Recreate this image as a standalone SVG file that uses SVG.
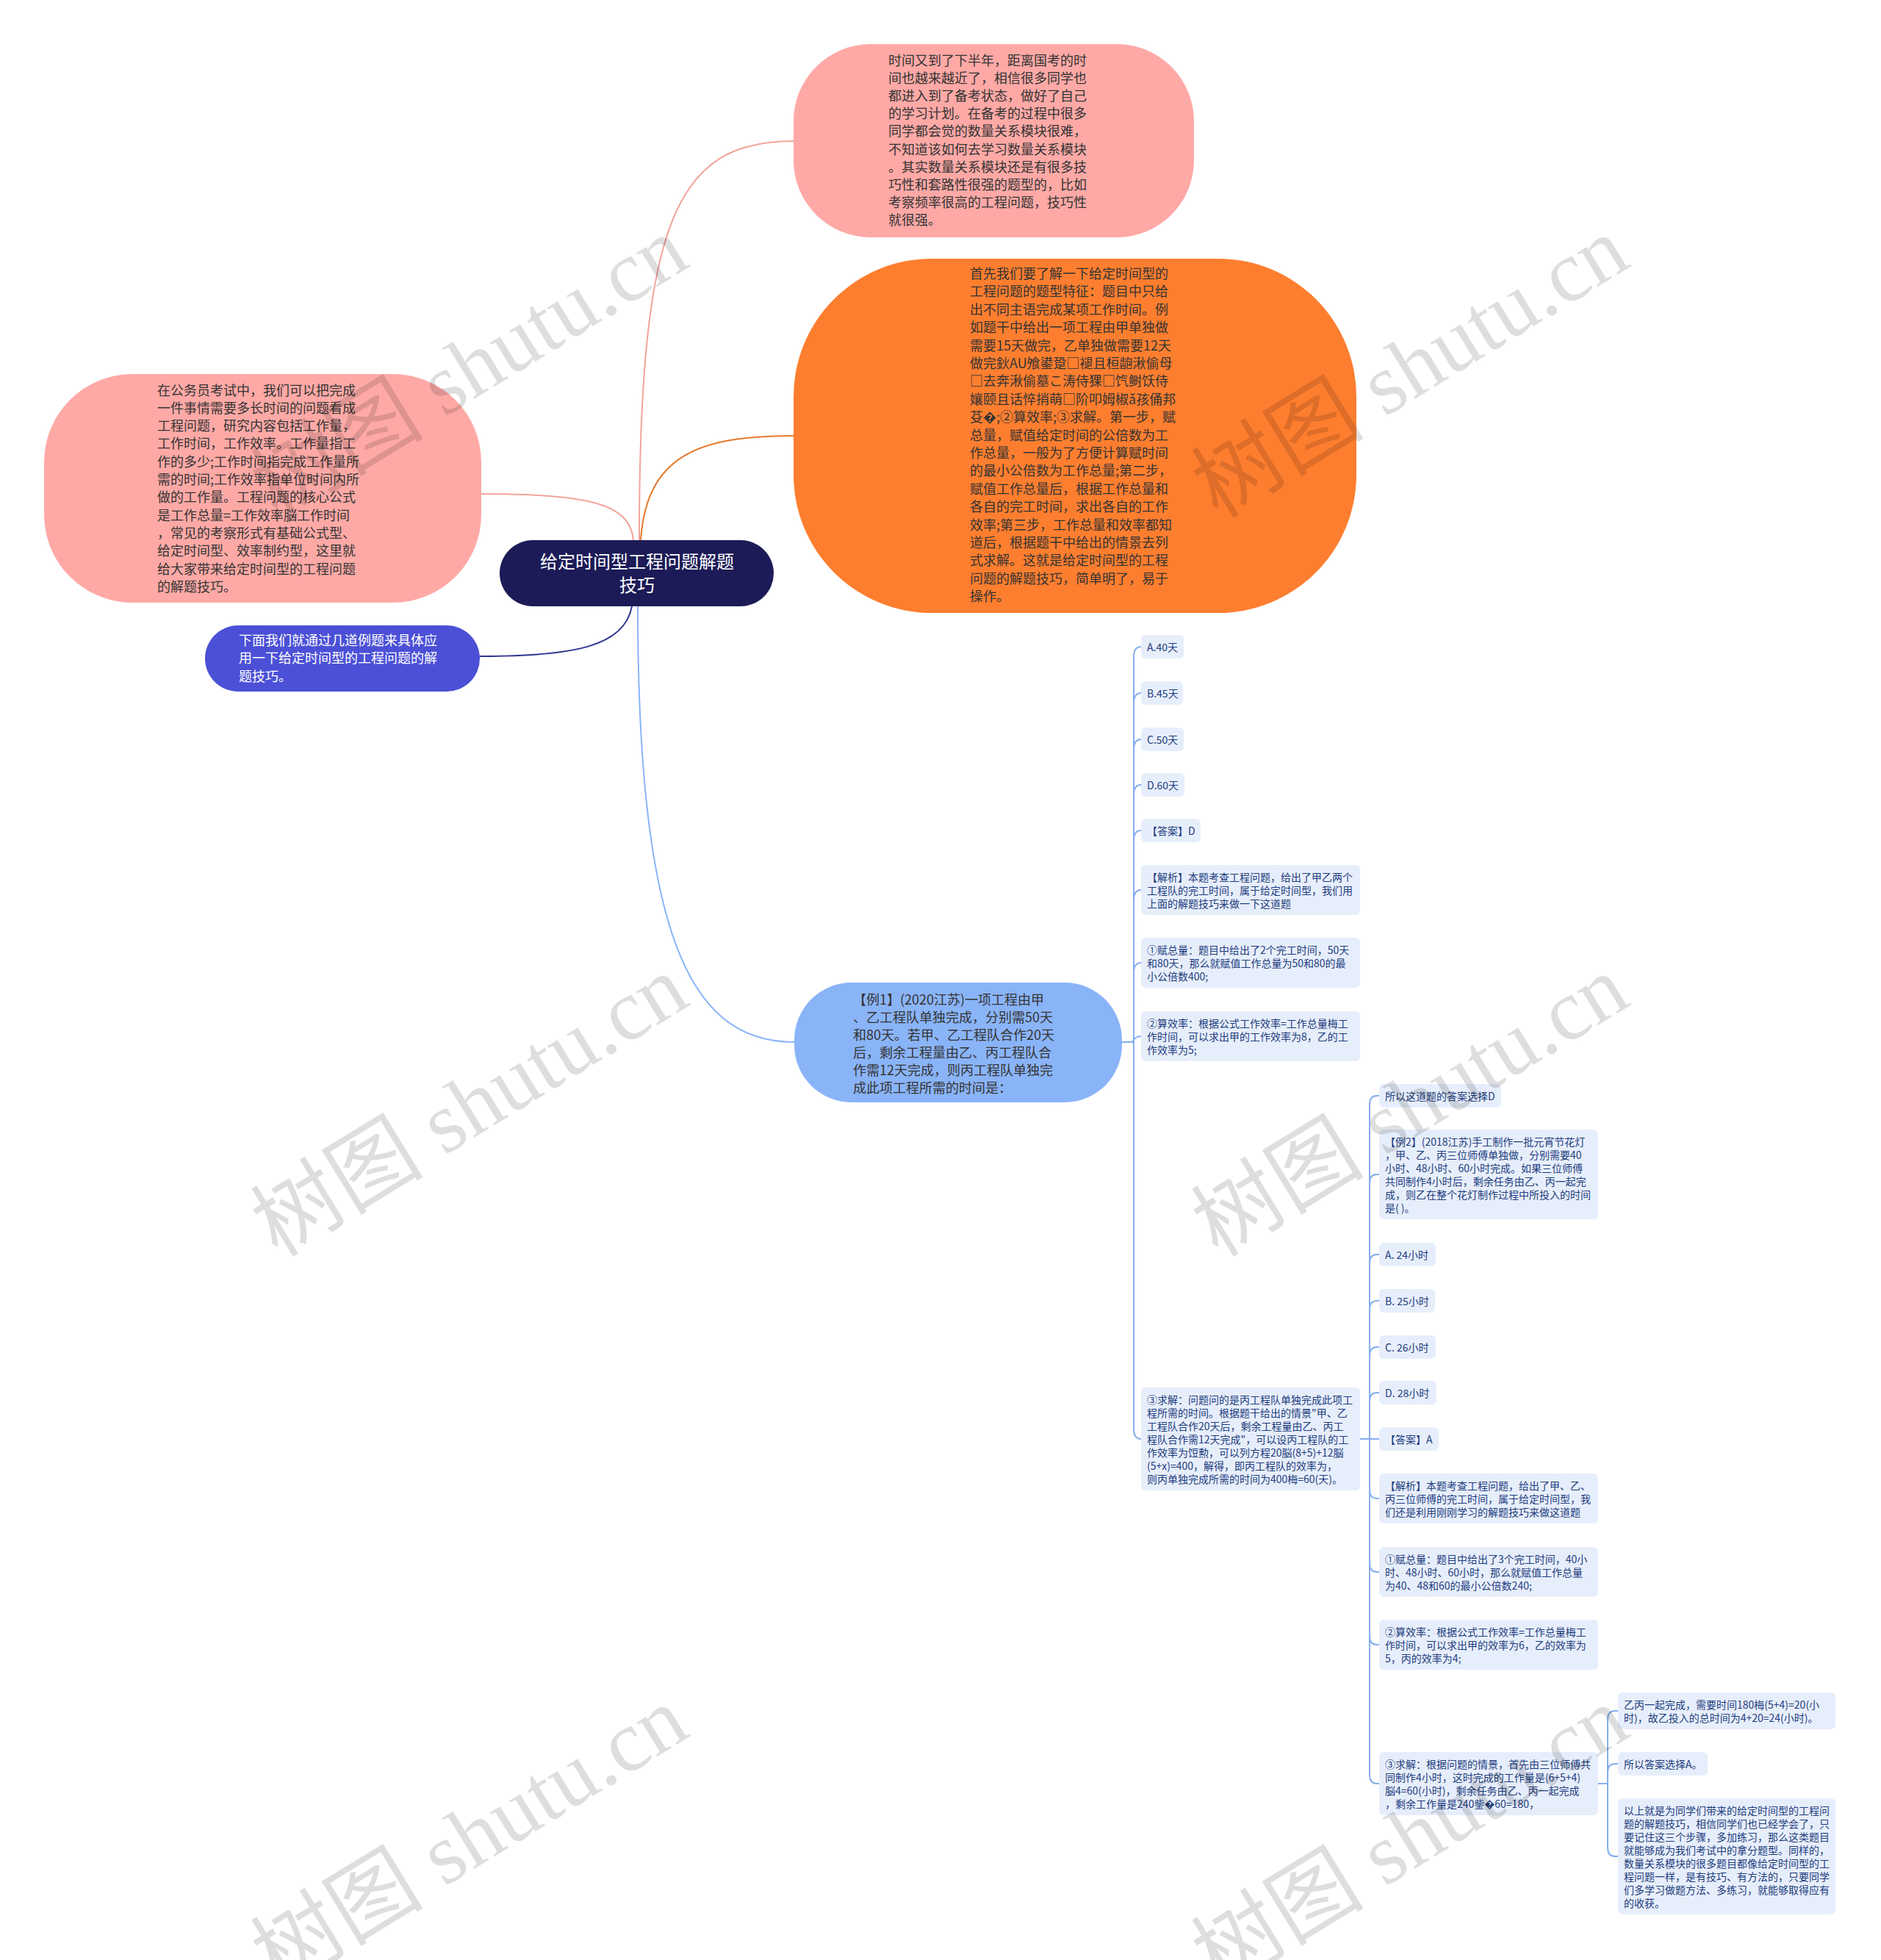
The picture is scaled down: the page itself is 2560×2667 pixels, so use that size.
<svg xmlns="http://www.w3.org/2000/svg" width="2560" height="2667" viewBox="0 0 2560 2667">
<style>
text{font-family:"Noto Sans CJK SC","Noto Sans",sans-serif}
.b18{font-size:18px;fill:#333}
.w18{font-size:18px;fill:#fff}
.s14{font-size:14px;fill:#1c3c7d}
.sm{fill:#e7eefb}
.c3{fill:none;stroke:#86aeee;stroke-width:2}
.wm{font-family:"Liberation Serif","Noto Sans CJK SC",serif;font-size:118px;fill:#000;fill-opacity:0.13}
</style>
<rect width="2560" height="2667" fill="#fff"/>
<g id="connectors" fill="none" stroke-width="2">
<path d="M870 735 C870 300 920 192 1080 192" stroke="#f2a39b"/>
<path d="M872 735 C880 620 950 593 1080 593" stroke="#e8782a"/>
<path d="M862 735 C858 685 800 672 655 672" stroke="#f2a39b"/>
<path d="M860 825 C850 880 780 893 653 893" stroke="#2e3490"/>
<path d="M868 825 C868 1300 950 1418 1082 1418" stroke="#8ab4f8"/>
<g class="c3">
<path d="M1527 1418 H1543 V894 Q1543 880 1553 880"/>
<path d="M1527 1418 H1543 V957 Q1543 943 1553 943"/>
<path d="M1527 1418 H1543 V1020 Q1543 1006 1553 1006"/>
<path d="M1527 1418 H1543 V1082 Q1543 1068 1553 1068"/>
<path d="M1527 1418 H1543 V1144 Q1543 1130 1553 1130"/>
<path d="M1527 1418 H1543 V1225 Q1543 1211 1553 1211"/>
<path d="M1527 1418 H1543 V1324 Q1543 1310 1553 1310"/>
<path d="M1527 1418 H1541 Q1545 1410 1553 1410"/>
<path d="M1527 1418 H1543 V1944 Q1543 1958 1553 1958"/>
<path d="M1851 1958 H1864 V1503 Q1864 1491 1874 1491 H1877"/>
<path d="M1851 1958 H1864 V1610 Q1864 1598 1874 1598 H1877"/>
<path d="M1851 1958 H1864 V1719 Q1864 1707 1874 1707 H1877"/>
<path d="M1851 1958 H1864 V1782 Q1864 1770 1874 1770 H1877"/>
<path d="M1851 1958 H1864 V1845 Q1864 1833 1874 1833 H1877"/>
<path d="M1851 1958 H1864 V1907 Q1864 1895 1874 1895 H1877"/>
<path d="M1851 1958 H1877"/>
<path d="M1851 1958 H1864 V2027 Q1864 2039 1874 2039 H1877"/>
<path d="M1851 1958 H1864 V2127 Q1864 2139 1874 2139 H1877"/>
<path d="M1851 1958 H1864 V2226 Q1864 2238 1874 2238 H1877"/>
<path d="M1851 1958 H1864 V2415 Q1864 2427 1874 2427 H1877"/>
<path d="M2175 2427 H2188 V2340 Q2188 2328 2198 2328 H2202"/>
<path d="M2175 2427 H2188 V2412 Q2188 2400 2198 2400 H2202"/>
<path d="M2175 2427 H2188 V2514 Q2188 2526 2198 2526 H2202"/>
</g>
</g>

<g id="root">
<rect x="680" y="735" width="373" height="90" rx="45" fill="#1c1b57"/>
<text x="867" y="772.5" font-size="24" fill="#fff" text-anchor="middle">给定时间型工程问题解题</text>
<text x="867" y="804.5" font-size="24" fill="#fff" text-anchor="middle">技巧</text>
</g>

<g id="n-intro">
<rect x="1080" y="60" width="545" height="263" rx="105" fill="#fea9a6"/>
<text class="b18" x="1209" y="88.5"><tspan x="1209">时间又到了下半年，距离国考的时</tspan><tspan x="1209" dy="24.2">间也越来越近了，相信很多同学也</tspan><tspan x="1209" dy="24.2">都进入到了备考状态，做好了自己</tspan><tspan x="1209" dy="24.2">的学习计划。在备考的过程中很多</tspan><tspan x="1209" dy="24.2">同学都会觉的数量关系模块很难，</tspan><tspan x="1209" dy="24.2">不知道该如何去学习数量关系模块</tspan><tspan x="1209" dy="24.2">。其实数量关系模块还是有很多技</tspan><tspan x="1209" dy="24.2">巧性和套路性很强的题型的，比如</tspan><tspan x="1209" dy="24.2">考察频率很高的工程问题，技巧性</tspan><tspan x="1209" dy="24.2">就很强。</tspan></text>
</g>

<g id="n-method">
<rect x="1080" y="352" width="766" height="482" rx="188" fill="#fe7e2f"/>
<text class="b18" x="1320" y="379" fill="#2a2a2a"><tspan x="1320">首先我们要了解一下给定时间型的</tspan><tspan x="1320" dy="24.4">工程问题的题型特征：题目中只给</tspan><tspan x="1320" dy="24.4">出不同主语完成某项工作时间。例</tspan><tspan x="1320" dy="24.4">如题干中给出一项工程由甲单独做</tspan><tspan x="1320" dy="24.4">需要15天做完，乙单独做需要12天</tspan><tspan x="1320" dy="24.4">做完鈥AU飧鍙跫□褪且桓龅湫偷母</tspan><tspan x="1320" dy="24.4">□去奔湫偷墓こ涛侍猓□饩鲥饫侍</tspan><tspan x="1320" dy="24.4">孃颐且话悴捎萌□阶叩姆椒ǎ孩俑邦</tspan><tspan x="1320" dy="24.4">芟�;②算效率;③求解。第一步，赋</tspan><tspan x="1320" dy="24.4">总量，赋值给定时间的公倍数为工</tspan><tspan x="1320" dy="24.4">作总量，一般为了方便计算赋时间</tspan><tspan x="1320" dy="24.4">的最小公倍数为工作总量;第二步，</tspan><tspan x="1320" dy="24.4">赋值工作总量后，根据工作总量和</tspan><tspan x="1320" dy="24.4">各自的完工时间，求出各自的工作</tspan><tspan x="1320" dy="24.4">效率;第三步，工作总量和效率都知</tspan><tspan x="1320" dy="24.4">道后，根据题干中给出的情景去列</tspan><tspan x="1320" dy="24.4">式求解。这就是给定时间型的工程</tspan><tspan x="1320" dy="24.4">问题的解题技巧，简单明了，易于</tspan><tspan x="1320" dy="24.4">操作。</tspan></text>
</g>

<g id="n-define">
<rect x="60" y="509" width="595" height="311" rx="120" fill="#fea9a6"/>
<text class="b18" x="214" y="537.5"><tspan x="214">在公务员考试中，我们可以把完成</tspan><tspan x="214" dy="24.3">一件事情需要多长时间的问题看成</tspan><tspan x="214" dy="24.3">工程问题，研究内容包括工作量，</tspan><tspan x="214" dy="24.3">工作时间，工作效率。工作量指工</tspan><tspan x="214" dy="24.3">作的多少;工作时间指完成工作量所</tspan><tspan x="214" dy="24.3">需的时间;工作效率指单位时间内所</tspan><tspan x="214" dy="24.3">做的工作量。工程问题的核心公式</tspan><tspan x="214" dy="24.3">是工作总量=工作效率脳工作时间</tspan><tspan x="214" dy="24.3">，常见的考察形式有基础公式型、</tspan><tspan x="214" dy="24.3">给定时间型、效率制约型，这里就</tspan><tspan x="214" dy="24.3">给大家带来给定时间型的工程问题</tspan><tspan x="214" dy="24.3">的解题技巧。</tspan></text>
</g>

<g id="n-examples">
<rect x="279" y="851" width="374" height="90" rx="45" fill="#4b50d6"/>
<text class="w18" x="325" y="877.5"><tspan x="325">下面我们就通过几道例题来具体应</tspan><tspan x="325" dy="24.5">用一下给定时间型的工程问题的解</tspan><tspan x="325" dy="24.5">题技巧。</tspan></text>
</g>

<g id="n-ex1">
<rect x="1081" y="1337" width="446" height="163" rx="78" fill="#8ab4f8"/>
<text class="b18" x="1161" y="1366.5" fill="#222"><tspan x="1161">【例1】(2020江苏)一项工程由甲</tspan><tspan x="1161" dy="24">、乙工程队单独完成，分别需50天</tspan><tspan x="1161" dy="24">和80天。若甲、乙工程队合作20天</tspan><tspan x="1161" dy="24">后，剩余工程量由乙、丙工程队合</tspan><tspan x="1161" dy="24">作需12天完成，则丙工程队单独完</tspan><tspan x="1161" dy="24">成此项工程所需的时间是：</tspan></text>
</g>

<g id="n-ex1-a"><rect class="sm" x="1553" y="864" width="58" height="32" rx="6"/><text class="s14" x="1561" y="885.5">A.40天</text></g>
<g id="n-ex1-b"><rect class="sm" x="1553" y="927" width="57" height="32" rx="6"/><text class="s14" x="1561" y="948.5">B.45天</text></g>
<g id="n-ex1-c"><rect class="sm" x="1553" y="990" width="58" height="32" rx="6"/><text class="s14" x="1561" y="1011.5">C.50天</text></g>
<g id="n-ex1-d"><rect class="sm" x="1553" y="1052" width="59" height="32" rx="6"/><text class="s14" x="1561" y="1073.5">D.60天</text></g>
<g id="n-ex1-ans"><rect class="sm" x="1553" y="1114" width="81" height="32" rx="6"/><text class="s14" x="1561" y="1135.5">【答案】D</text></g>
<g id="n-ex1-jx"><rect class="sm" x="1553" y="1177" width="298" height="68" rx="6"/><text class="s14" x="1561" y="1198.5"><tspan x="1561">【解析】本题考查工程问题，给出了甲乙两个</tspan><tspan x="1561" dy="18">工程队的完工时间，属于给定时间型，我们用</tspan><tspan x="1561" dy="18">上面的解题技巧来做一下这道题</tspan></text></g>
<g id="n-ex1-s1"><rect class="sm" x="1553" y="1276" width="298" height="68" rx="6"/><text class="s14" x="1561" y="1297.5"><tspan x="1561">①赋总量：题目中给出了2个完工时间，50天</tspan><tspan x="1561" dy="18">和80天，那么就赋值工作总量为50和80的最</tspan><tspan x="1561" dy="18">小公倍数400;</tspan></text></g>
<g id="n-ex1-s2"><rect class="sm" x="1553" y="1376" width="298" height="68" rx="6"/><text class="s14" x="1561" y="1397.5"><tspan x="1561">②算效率：根据公式工作效率=工作总量梅工</tspan><tspan x="1561" dy="18">作时间，可以求出甲的工作效率为8，乙的工</tspan><tspan x="1561" dy="18">作效率为5;</tspan></text></g>
<g id="n-ex1-s3"><rect class="sm" x="1553" y="1888" width="298" height="140" rx="6"/><text class="s14" x="1561" y="1909.5"><tspan x="1561">③求解：问题问的是丙工程队单独完成此项工</tspan><tspan x="1561" dy="18">程所需的时间。根据题干给出的情景"甲、乙</tspan><tspan x="1561" dy="18">工程队合作20天后，剩余工程量由乙、丙工</tspan><tspan x="1561" dy="18">程队合作需12天完成"，可以设丙工程队的工</tspan><tspan x="1561" dy="18">作效率为饾勲，可以列方程20脳(8+5)+12脳</tspan><tspan x="1561" dy="18">(5+x)=400，解得，即丙工程队的效率为，</tspan><tspan x="1561" dy="18">则丙单独完成所需的时间为400梅=60(天)。</tspan></text></g>

<g id="n-ex1-so"><rect class="sm" x="1877" y="1475" width="166" height="32" rx="6"/><text class="s14" x="1885" y="1496.5">所以这道题的答案选择D</text></g>
<g id="n-ex2"><rect class="sm" x="1877" y="1537" width="298" height="122" rx="6"/><text class="s14" x="1885" y="1559"><tspan x="1885">【例2】(2018江苏)手工制作一批元宵节花灯</tspan><tspan x="1885" dy="18">，甲、乙、丙三位师傅单独做，分别需要40</tspan><tspan x="1885" dy="18">小时、48小时、60小时完成。如果三位师傅</tspan><tspan x="1885" dy="18">共同制作4小时后，剩余任务由乙、丙一起完</tspan><tspan x="1885" dy="18">成，则乙在整个花灯制作过程中所投入的时间</tspan><tspan x="1885" dy="18">是( )。</tspan></text></g>
<g id="n-ex2-a"><rect class="sm" x="1877" y="1691" width="77" height="32" rx="6"/><text class="s14" x="1885" y="1712.5">A. 24小时</text></g>
<g id="n-ex2-b"><rect class="sm" x="1877" y="1754" width="76" height="32" rx="6"/><text class="s14" x="1885" y="1775.5">B. 25小时</text></g>
<g id="n-ex2-c"><rect class="sm" x="1877" y="1817" width="77" height="32" rx="6"/><text class="s14" x="1885" y="1838.5">C. 26小时</text></g>
<g id="n-ex2-d"><rect class="sm" x="1877" y="1879" width="78" height="32" rx="6"/><text class="s14" x="1885" y="1900.5">D. 28小时</text></g>
<g id="n-ex2-ans"><rect class="sm" x="1877" y="1942" width="81" height="32" rx="6"/><text class="s14" x="1885" y="1963.5">【答案】A</text></g>
<g id="n-ex2-jx"><rect class="sm" x="1877" y="2005" width="298" height="68" rx="6"/><text class="s14" x="1885" y="2026.5"><tspan x="1885">【解析】本题考查工程问题，给出了甲、乙、</tspan><tspan x="1885" dy="18">丙三位师傅的完工时间，属于给定时间型，我</tspan><tspan x="1885" dy="18">们还是利用刚刚学习的解题技巧来做这道题</tspan></text></g>
<g id="n-ex2-s1"><rect class="sm" x="1877" y="2105" width="298" height="68" rx="6"/><text class="s14" x="1885" y="2126.5"><tspan x="1885">①赋总量：题目中给出了3个完工时间，40小</tspan><tspan x="1885" dy="18">时、48小时、60小时，那么就赋值工作总量</tspan><tspan x="1885" dy="18">为40、48和60的最小公倍数240;</tspan></text></g>
<g id="n-ex2-s2"><rect class="sm" x="1877" y="2204" width="298" height="68" rx="6"/><text class="s14" x="1885" y="2225.5"><tspan x="1885">②算效率：根据公式工作效率=工作总量梅工</tspan><tspan x="1885" dy="18">作时间，可以求出甲的效率为6，乙的效率为</tspan><tspan x="1885" dy="18">5，丙的效率为4;</tspan></text></g>
<g id="n-ex2-s3"><rect class="sm" x="1877" y="2384" width="298" height="86" rx="6"/><text class="s14" x="1885" y="2405.5"><tspan x="1885">③求解：根据问题的情景，首先由三位师傅共</tspan><tspan x="1885" dy="18">同制作4小时，这时完成的工作量是(6+5+4)</tspan><tspan x="1885" dy="18">脳4=60(小时)，剩余任务由乙、丙一起完成</tspan><tspan x="1885" dy="18">，剩余工作量是240鈭�60=180，</tspan></text></g>

<g id="n-ex2-t1"><rect class="sm" x="2202" y="2303" width="296" height="50" rx="6"/><text class="s14" x="2210" y="2324.5"><tspan x="2210">乙丙一起完成，需要时间180梅(5+4)=20(小</tspan><tspan x="2210" dy="18">时)，故乙投入的总时间为4+20=24(小时)。</tspan></text></g>
<g id="n-ex2-t2"><rect class="sm" x="2202" y="2384" width="122" height="32" rx="6"/><text class="s14" x="2210" y="2405.5">所以答案选择A。</text></g>
<g id="n-ex2-t3"><rect class="sm" x="2202" y="2447" width="296" height="158" rx="6"/><text class="s14" x="2210" y="2468.5"><tspan x="2210">以上就是为同学们带来的给定时间型的工程问</tspan><tspan x="2210" dy="18">题的解题技巧，相信同学们也已经学会了，只</tspan><tspan x="2210" dy="18">要记住这三个步骤，多加练习，那么这类题目</tspan><tspan x="2210" dy="18">就能够成为我们考试中的拿分题型。同样的，</tspan><tspan x="2210" dy="18">数量关系模块的很多题目都像给定时间型的工</tspan><tspan x="2210" dy="18">程问题一样，是有技巧、有方法的，只要同学</tspan><tspan x="2210" dy="18">们多学习做题方法、多练习，就能够取得应有</tspan><tspan x="2210" dy="18">的收获。</tspan></text></g>

<g id="watermarks">
<text class="wm" text-anchor="middle" transform="translate(660 534) rotate(-31.5)">树图 shutu.cn</text>
<text class="wm" text-anchor="middle" transform="translate(1940 534) rotate(-31.5)">树图 shutu.cn</text>
<text class="wm" text-anchor="middle" transform="translate(660 1539) rotate(-31.5)">树图 shutu.cn</text>
<text class="wm" text-anchor="middle" transform="translate(1940 1539) rotate(-31.5)">树图 shutu.cn</text>
<text class="wm" text-anchor="middle" transform="translate(660 2534) rotate(-31.5)">树图 shutu.cn</text>
<text class="wm" text-anchor="middle" transform="translate(1940 2534) rotate(-31.5)">树图 shutu.cn</text>
</g>
</svg>
